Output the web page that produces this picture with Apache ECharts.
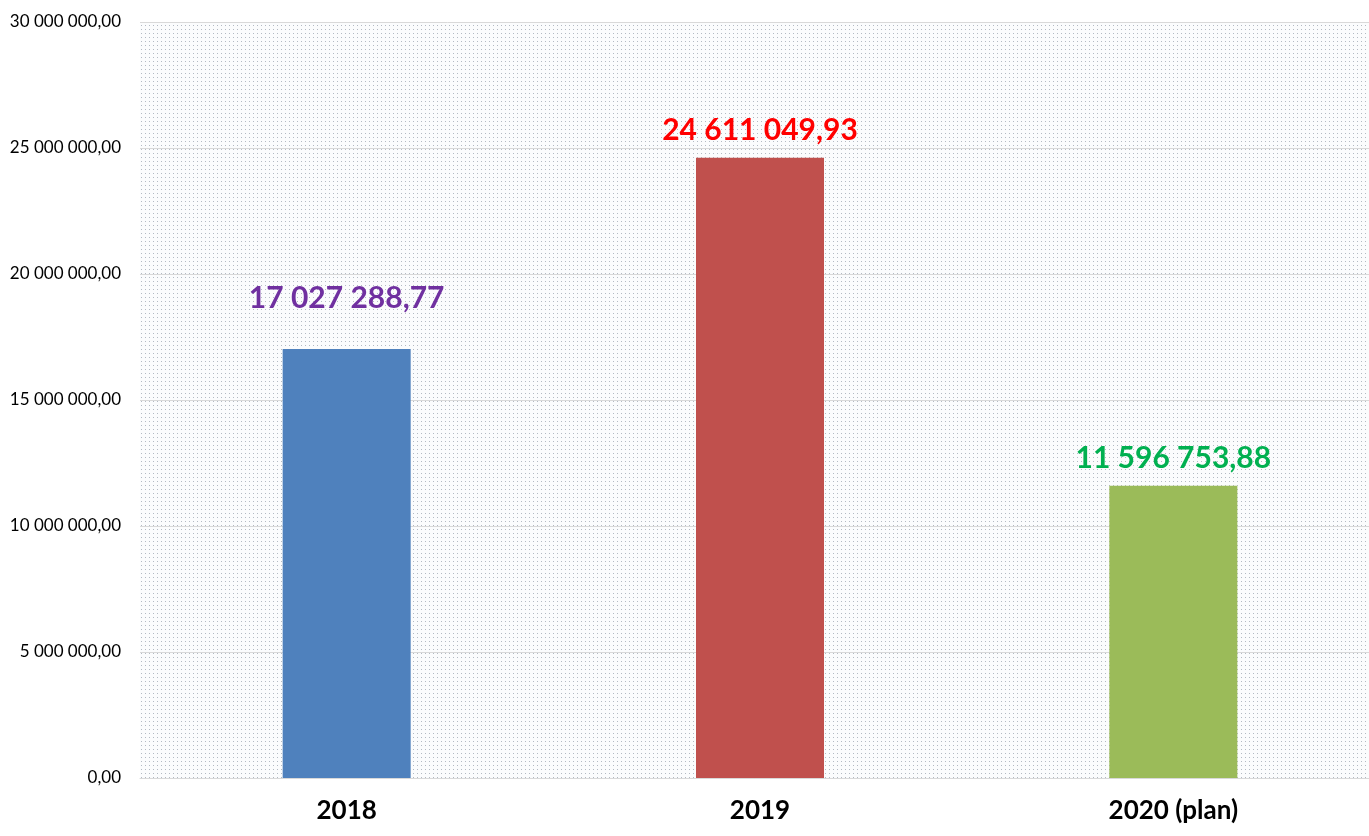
<!DOCTYPE html>
<html>
<head>
<meta charset="utf-8">
<script src="https://cdn.jsdelivr.net/npm/echarts@6/dist/echarts.min.js"></script>
<style>
  html, body { margin: 0; padding: 0; background: #fff; }
  #chart { width: 1369px; height: 836px; }
</style>
</head>
<body>
<div id="chart"></div>
<script>
// data
const years = ['2018', '2019', '2020 (plan)']
const amounts = [17027288.77, 24611049.93, 11596753.88]
const barColors = ['#4f81bd', '#c0504d', '#9bbb59']
const labelColors = ['#7030a0', '#ff0000', '#00b050']
const labelGaps = [36, 12, 12]

// number like 24 611 049,93
function fmt(v) {
  const parts = v.toFixed(2).split('.')
  return parts[0].replace(/\B(?=(\d{3})+(?!\d))/g, ' ') + ',' + parts[1]
}

// dotted background of the plot area
const dots = document.createElement('canvas')
dots.width = 4
dots.height = 4
const dctx = dots.getContext('2d')
dctx.fillStyle = '#fbfcfd'
dctx.fillRect(0, 0, 4, 4)
dctx.fillStyle = '#b3bac3'
dctx.fillRect(1, 1, 1, 1)

const chart = echarts.init(document.getElementById('chart'))

const option = {
  backgroundColor: '#ffffff',
  animation: false,
  grid: {
    left: 140,
    width: 1240,
    top: 22,
    bottom: 58,
    outerBoundsMode: 'none',
    containLabel: false,
    show: true,
    borderWidth: 0,
    backgroundColor: { image: dots, repeat: 'repeat' }
  },
  xAxis: {
    type: 'category',
    data: years,
    axisLine: { lineStyle: { color: '#d9d9d9', width: 1 } },
    axisTick: { show: false },
    axisLabel: {
      color: '#000',
      fontFamily: 'Lato, "Open Sans", sans-serif',
      fontWeight: 'bold',
      fontSize: 26,
      margin: 20
    }
  },
  yAxis: {
    type: 'value',
    min: 0,
    max: 30000000,
    interval: 5000000,
    axisLine: { show: false },
    axisTick: { show: false },
    axisLabel: {
      color: '#000',
      fontFamily: 'Lato, "Open Sans", sans-serif',
      fontSize: 17,
      margin: 19,
      formatter: fmt
    },
    splitLine: { lineStyle: { color: '#d9d9d9', width: 1 } }
  },
  series: [
    {
      type: 'bar',
      barWidth: 128,
      data: amounts.map((v, i) => ({
        value: v,
        itemStyle: { color: barColors[i] },
        label: { color: labelColors[i], distance: labelGaps[i] }
      })),
      label: {
        show: true,
        position: 'top',
        fontFamily: 'Lato, "Open Sans", sans-serif',
        fontWeight: 'bold',
        fontSize: 30,
        formatter: p => fmt(p.value)
      }
    }
  ]
}

chart.setOption(option)
</script>
</body>
</html>
